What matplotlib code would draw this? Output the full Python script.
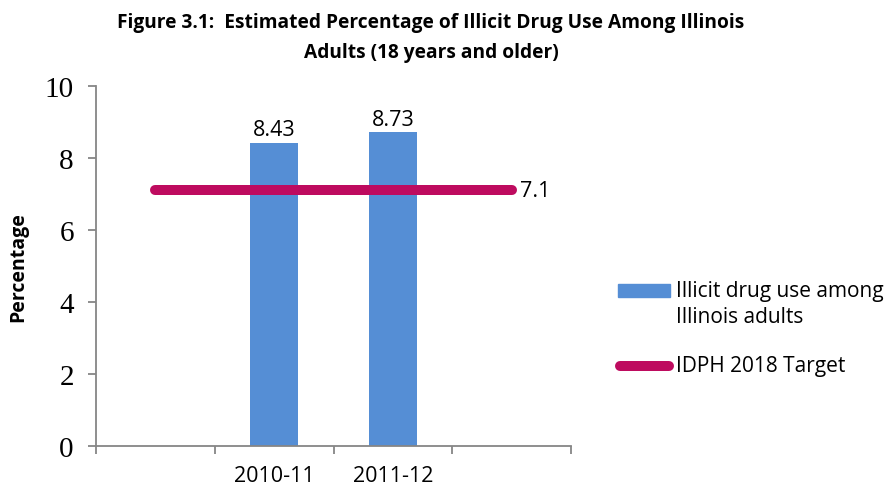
import numpy as np
import matplotlib.pyplot as plt
from matplotlib.patches import Rectangle
from matplotlib.lines import Line2D

categories = ['', '2010-11', '2011-12', '']
drug_use = [np.nan, 8.43, 8.73, np.nan]
target = [7.1, 7.1, 7.1, 7.1]
legend_labels = ['Illicit drug use among\nIllinois adults', 'IDPH 2018 Target']

BAR_COLOR = '#558ED5'
LINE_COLOR = '#BE0B5F'
AXIS_COLOR = '#868686'
SANS = 'Open Sans'

W, H = 891, 489
fig = plt.figure(figsize=(W / 100, H / 100), dpi=100)
ax = fig.add_axes([96 / W, 1 - 447 / H, (571 - 96) / W, (447 - 87) / H])

x = np.arange(len(categories))
ax.bar(x, drug_use, width=0.4, color=BAR_COLOR, zorder=2)
ax.plot(x, target, color=LINE_COLOR, linewidth=7.2, solid_capstyle='round', zorder=3)

# value labels
for xi, v in zip(x, drug_use):
    if not np.isnan(v):
        ax.text(xi, v + 0.06, f'{v:.2f}', ha='center', va='bottom',
                fontsize=15.5, family=SANS)
ax.annotate(f'{target[-1]}', (x[-1], target[-1]), xytext=(6, 0),
            textcoords='offset points', ha='left', va='center',
            fontsize=15.5, family=SANS)

ax.set_xlim(-0.5, len(categories) - 0.5)
ax.set_ylim(0, 10)
ax.set_yticks(range(0, 11, 2))
ax.set_yticklabels([str(v) for v in range(0, 11, 2)], family='Liberation Serif', fontsize=21)
ax.set_xticks(x)
ax.set_xticklabels(categories, family=SANS, fontsize=15.5)
ax.set_xticks(np.arange(-0.5, len(categories)), minor=True)
ax.tick_params(axis='x', which='major', length=0, pad=14)
ax.tick_params(axis='x', which='minor', length=6, color=AXIS_COLOR, width=1.3)
ax.tick_params(axis='y', length=6, color=AXIS_COLOR, width=1.3, pad=10)

for side in ['top', 'right']:
    ax.spines[side].set_visible(False)
for side in ['left', 'bottom']:
    ax.spines[side].set_color(AXIS_COLOR)
    ax.spines[side].set_linewidth(1.3)

ax.set_ylabel('Percentage', family=SANS, fontweight='bold', fontsize=14, labelpad=12)

fig.text(431 / W, 1 - 23 / H, 'Figure 3.1:  Estimated Percentage of Illicit Drug Use Among Illinois',
         ha='center', va='center', family=SANS, fontweight='bold', fontsize=13.8)
fig.text(431 / W, 1 - 53 / H, 'Adults (18 years and older)',
         ha='center', va='center', family=SANS, fontweight='bold', fontsize=13.8)

# legend, laid out by hand so the swatch sits beside the first text line
fig.add_artist(Rectangle((618 / W, 1 - 298 / H), 52 / W, 13 / H,
                         transform=fig.transFigure, color=BAR_COLOR))
fig.add_artist(Line2D([620 / W, 669 / W], [1 - 367 / H, 1 - 367 / H],
                      transform=fig.transFigure, color=LINE_COLOR,
                      linewidth=7.2, solid_capstyle='round'))
fig.text(676 / W, 1 - 281 / H, legend_labels[0], ha='left', va='top',
         family=SANS, fontsize=15, linespacing=1.3)
fig.text(676 / W, 1 - 367 / H, legend_labels[1], ha='left', va='center',
         family=SANS, fontsize=15)

fig.savefig('out.png', dpi=100)
